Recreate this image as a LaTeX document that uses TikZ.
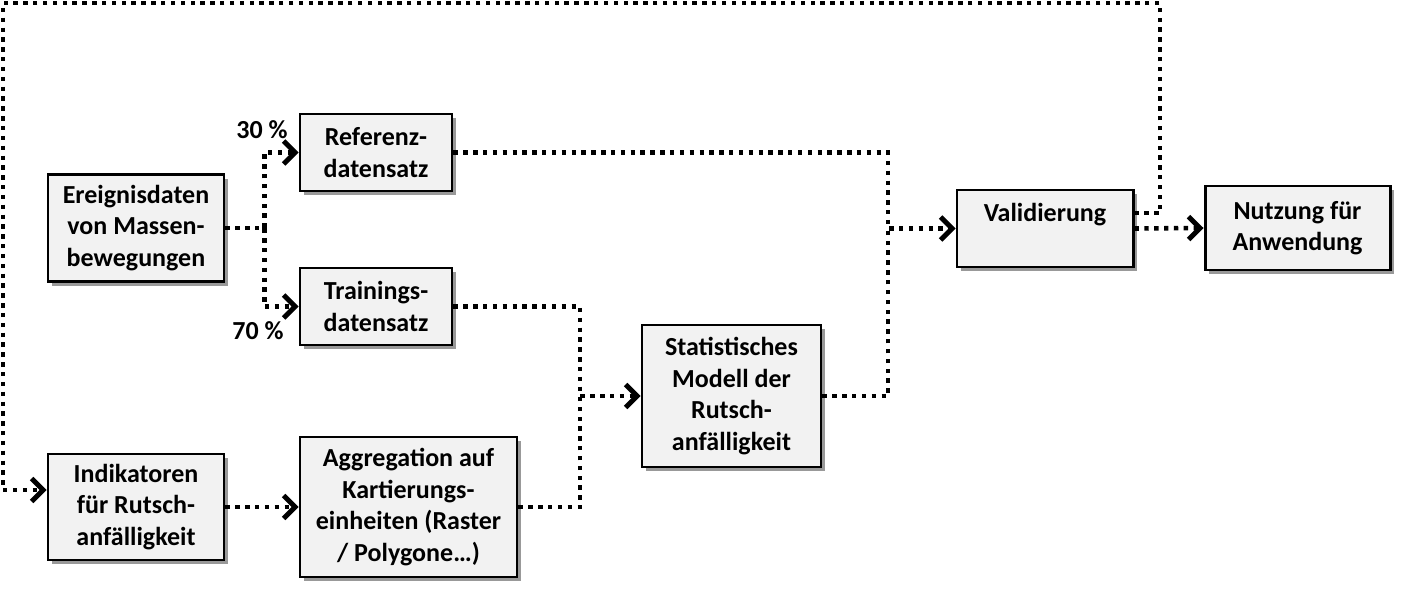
\documentclass[tikz,border=0pt]{standalone}
\usepackage{fontspec}
\setmainfont{Carlito}
\usetikzlibrary{arrows.meta,shadows}
\definecolor{boxgrey}{RGB}{242,242,242}

\begin{document}
\begin{tikzpicture}[
  box/.style={draw, line width=1.7pt, fill=boxgrey, align=center,
    font=\fontsize{14.8}{18}\selectfont\bfseries, inner sep=2pt,
    drop shadow={shadow xshift=2.5pt, shadow yshift=-2.5pt, opacity=0.4, fill=black}},
  flow/.style={line width=2.6pt, dash pattern=on 2.5pt off 3.1pt},
  tip/.style={flow, -{Straight Barb[length=6.5pt,width=13pt,line width=2.8pt]}},
  pct/.style={font=\fontsize{14.8}{18}\selectfont\bfseries}]
\useasboundingbox (0,0) rectangle (28.1,-11.98);
% boxes
\node [box, minimum width=3.52cm, minimum height=2.14cm] (ereignis) at (2.72,-4.56) {Ereignisdaten\\von Massen-\\bewegungen};
\node [box, minimum width=3.04cm, minimum height=1.54cm] (referenz) at (7.52,-3.05) {Referenz-\\datensatz};
\node [box, minimum width=3.04cm, minimum height=1.54cm] (training) at (7.52,-6.13) {Trainings-\\datensatz};
\node [box, minimum width=3.52cm, minimum height=2.12cm] (indik) at (2.72,-10.14) {Indikatoren\\für Rutsch-\\anfälligkeit};
\node [box, minimum width=4.34cm, minimum height=2.8cm] (aggreg) at (8.17,-10.14) {Aggregation auf\\Kartierungs-\\einheiten (Raster\\/ Polygone…)};
\node [box, minimum width=3.58cm, minimum height=2.84cm] (modell) at (14.63,-7.92) {Statistisches\\Modell der\\Rutsch-\\anfälligkeit};
\node [box, minimum width=3.52cm, minimum height=1.54cm] (valid) at (20.9,-4.57) {Validierung\\\mbox{}};
\node [box, minimum width=3.7cm, minimum height=1.68cm] (nutzung) at (25.95,-4.56) {Nutzung für\\Anwendung};
% labels
\node [pct] (p30) at (5.24,-2.6) {30 \%};
\node [pct] (p70) at (5.16,-6.62) {70 \%};
% junctions
\coordinate (mergeS) at (11.6,-7.92);
\coordinate (mergeV) at (17.76,-4.57);
\coordinate (topR) at (23.2,-0.06);
\coordinate (topL) at (0.06,-0.06);
% connectors
\draw [tip] (ereignis.east) -- ++(0.78,0) |- (referenz.west);
\draw [tip] (ereignis.east) -- ++(0.78,0) |- (training.west);
\draw [tip] (referenz.east) -| (mergeV) -- (valid.west);
\draw [flow] (modell.east) -| (mergeV);
\draw [tip] (training.east) -| (mergeS) -- (modell.west);
\draw [flow] (aggreg.east) -| (mergeS);
\draw [tip] (indik.east) -- (aggreg.west);
\draw [tip] (valid.east) -- (nutzung.west);
\draw [tip] ([yshift=0.31cm]valid.east) -| (topR) -- (topL) |- ([yshift=0.34cm]indik.west);
\end{tikzpicture}
\end{document}
